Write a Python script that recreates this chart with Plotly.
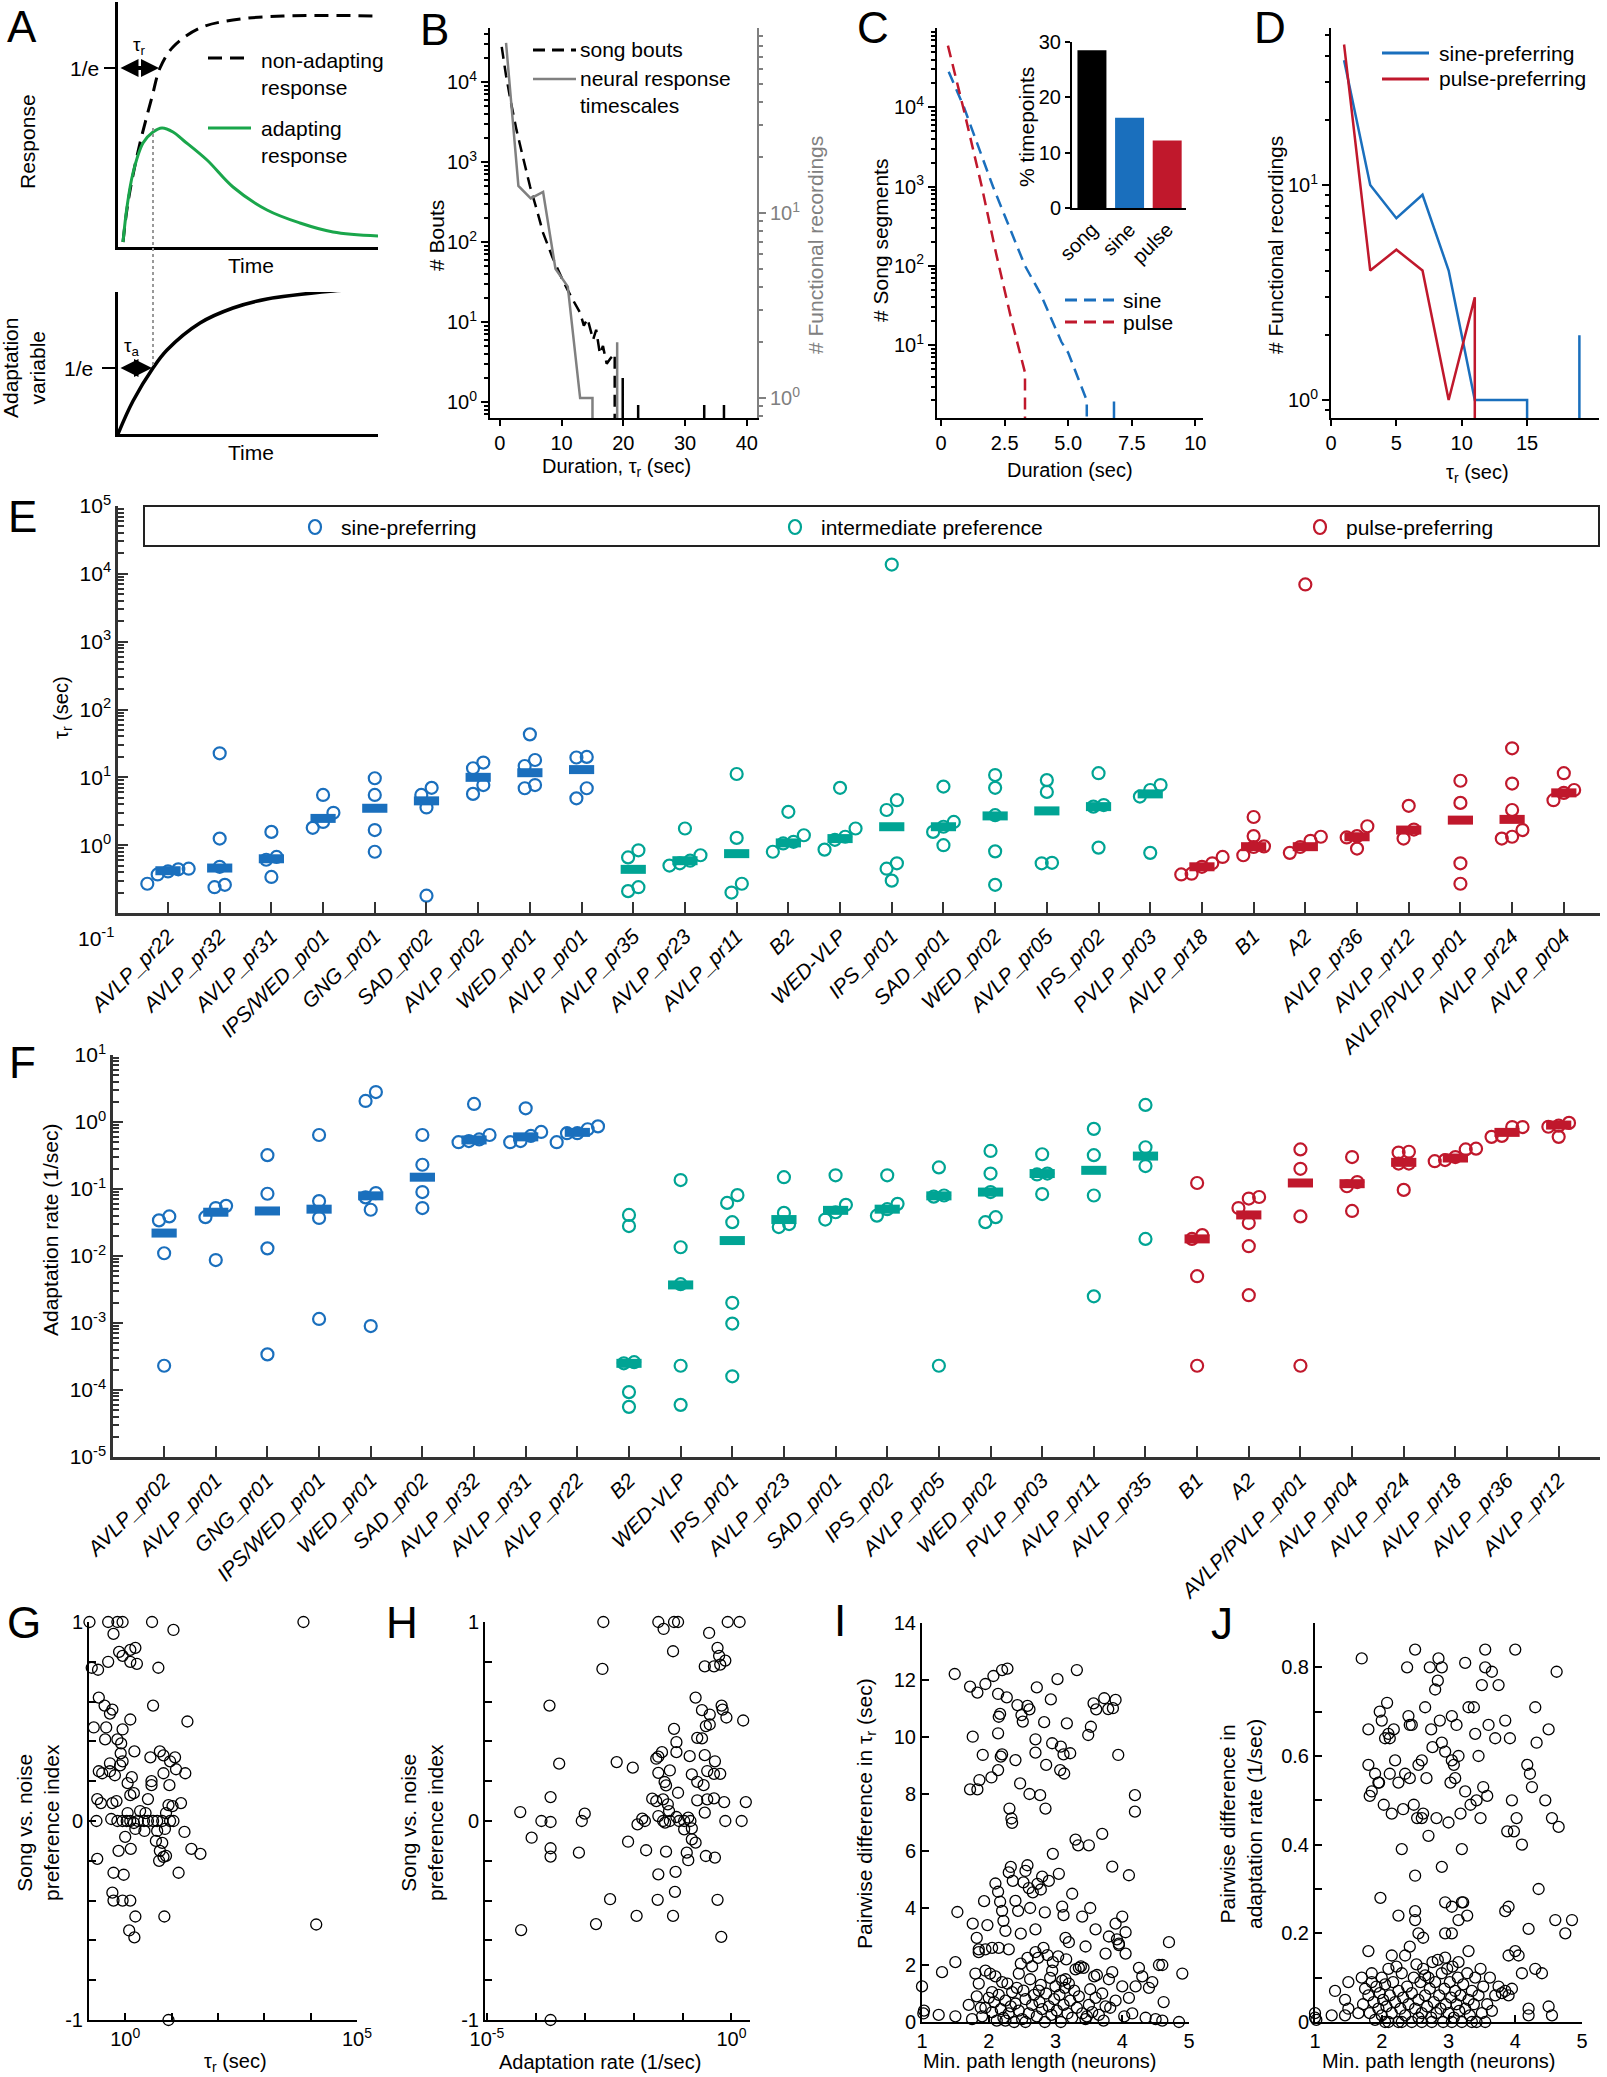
import numpy as np
import plotly.graph_objects as go

W, H = 1607, 2077
FONT = "Liberation Sans, Arial, sans-serif"
BLUE = "#1a6fbd"; TEAL = "#00a494"; RED = "#c0182c"; GREEN = "#1aa64b"; GRAY = "#808080"

# ---------------- Panel A (schematic curves, sampled) ----------------
a_nonadapt_t = [5, 9, 14, 22, 34, 42, 55, 82, 115, 165, 262]
a_nonadapt_r = [5, 38, 67, 104, 150, 179, 200, 219, 227, 231, 231]
a_adapt_t = [5, 9, 15, 25, 35, 44, 55, 65, 89, 115, 149, 182, 215, 260]
a_adapt_r = [5, 40, 74, 104, 115, 119, 115, 107, 87, 60, 37, 24, 15, 11]
a_var_t = [0, 15, 35, 49, 82, 115, 149, 215, 260]
a_var_v = [0, 33, 66, 84, 111, 126, 135, 143, 146]

# ---------------- Panel B ----------------
b_bouts_x = [0.3, 1.0, 1.8, 2.7, 3.8, 4.9, 6.0, 7.0, 8.5, 10.2, 11.5, 13.0, 13.6, 14.2, 15.1, 15.6, 16.2,
             16.7, 17.3, 17.9, 18.6, 19.2, 19.9, 20.4, 22.4, 22.9, 33.1, 33.6, 36.3, 36.8]
b_bouts_y = [27500, 12000, 5500, 2500, 1100, 490, 250, 130, 65, 33, 21, 13, 9, 11, 6, 8, 4,
             5, 3, 3.5, 4, 0, 2, 0, 1, 0, 1, 0, 1, 0]
b_neural_x = [1, 3, 5, 7, 9, 11, 13, 15, 17, 19, 21]
b_neural_y = [83, 14, 12, 13, 5, 4, 1, 1, 0, 2, 0]

# ---------------- Panel C ----------------
c_sine_x = [0.3, 0.9, 2.04, 3.3, 3.9, 4.73, 5.0, 5.73, 6.2, 6.8, 7.0]
c_sine_y = [28000, 10000, 1000, 100, 45, 11, 8, 2, 0, 2, 0]
c_pulse_x = [0.27, 0.9, 1.6, 2.16, 2.75, 3.3, 3.5]
c_pulse_y = [60000, 9100, 1000, 145, 22, 4.5, 0]
c_bar_labels = ["song", "sine", "pulse"]
c_bar_vals = [28.5, 16.3, 12.2]

# ---------------- Panel D ----------------
d_sine_x = [1, 3, 5, 7, 9, 11, 13, 15, 17, 19, 21]
d_sine_y = [38, 10, 7, 9, 4, 1, 1, 1, 0, 2, 0]
d_pulse_x = [1, 3, 5, 7, 9, 11, 13]
d_pulse_y = [45, 4, 5, 4, 1, 3, 0]

# ---------------- Panel E ----------------
e_cats = ["AVLP_pr22", "AVLP_pr32", "AVLP_pr31", "IPS/WED_pr01", "GNG_pr01", "SAD_pr02", "AVLP_pr02",
          "WED_pr01", "AVLP_pr01", "AVLP_pr35", "AVLP_pr23", "AVLP_pr11", "B2", "WED-VLP", "IPS_pr01",
          "SAD_pr01", "WED_pr02", "AVLP_pr05", "IPS_pr02", "PVLP_pr03", "AVLP_pr18", "B1", "A2",
          "AVLP_pr36", "AVLP_pr12", "AVLP/PVLP_pr01", "AVLP_pr24", "AVLP_pr04"]
e_pref = ["sine", "sine", "sine", "sine", "sine", "sine", "sine", "sine", "sine",
          "inter", "inter", "inter", "inter", "inter", "inter", "inter", "inter", "inter", "inter", "inter",
          "pulse", "pulse", "pulse", "pulse", "pulse", "pulse", "pulse", "pulse"]
e_vals = [
    [0.37, 0.45, 0.27, 0.44, 0.41], [22.6, 1.25, 0.48, 0.26, 0.24], [1.57, 0.67, 0.61, 0.34],
    [5.5, 3.0, 2.2, 1.8], [9.7, 5.5, 1.67, 0.8], [7.0, 5.5, 3.6, 0.18], [16.5, 13.6, 7.7, 5.7],
    [43, 18, 14.7, 7.7, 6.9], [20, 19.6, 6.9, 4.9], [0.84, 0.66, 0.24, 0.21],
    [1.76, 0.71, 0.59, 0.54, 0.5], [11.2, 1.28, 0.27, 0.2], [3.1, 1.4, 1.06, 1.12, 0.8],
    [7.0, 1.76, 1.33, 1.2, 0.86], [13700, 4.6, 3.3, 0.54, 0.45, 0.3], [7.3, 2.2, 1.87, 1.57, 1.0],
    [10.8, 7.0, 2.77, 0.81, 0.26], [9.1, 6.1, 0.54, 0.55], [11.5, 3.9, 3.7, 0.92], [7.7, 6.5, 5.2, 0.77],
    [0.67, 0.54, 0.48, 0.38, 0.37], [2.6, 1.36, 0.94, 0.96, 0.71], [6980, 1.33, 1.16, 0.94, 0.77],
    [1.9, 1.36, 1.3, 0.89], [3.8, 1.7, 1.25], [8.9, 4.2, 0.54, 0.27], [26.8, 8.1, 3.3, 1.67, 1.25, 1.33],
    [11.5, 6.5, 5.9, 4.6]]
e_center = [0.42, 0.46, 0.63, 2.48, 3.5, 4.5, 10.0, 11.7, 13.0, 0.44, 0.59, 0.75, 1.08, 1.25, 1.87,
            1.87, 2.7, 3.2, 3.7, 5.7, 0.48, 0.95, 0.95, 1.33, 1.67, 2.34, 2.4, 5.9]

# ---------------- Panel F ----------------
f_cats = ["AVLP_pr02", "AVLP_pr01", "GNG_pr01", "IPS/WED_pr01", "WED_pr01", "SAD_pr02", "AVLP_pr32",
          "AVLP_pr31", "AVLP_pr22", "B2", "WED-VLP", "IPS_pr01", "AVLP_pr23", "SAD_pr01", "IPS_pr02",
          "AVLP_pr05", "WED_pr02", "PVLP_pr03", "AVLP_pr11", "AVLP_pr35", "B1", "A2", "AVLP/PVLP_pr01",
          "AVLP_pr04", "AVLP_pr24", "AVLP_pr18", "AVLP_pr36", "AVLP_pr12"]
f_pref = ["sine", "sine", "sine", "sine", "sine", "sine", "sine", "sine", "sine",
          "inter", "inter", "inter", "inter", "inter", "inter", "inter", "inter", "inter", "inter", "inter",
          "pulse", "pulse", "pulse", "pulse", "pulse", "pulse", "pulse", "pulse"]
f_vals = [
    [0.039, 0.034, 0.011, 2.3e-4], [0.056, 0.052, 0.038, 0.0087], [0.32, 0.085, 0.013, 3.4e-4],
    [0.64, 0.066, 0.037, 0.00115], [2.8, 2.06, 0.087, 0.075, 0.049, 9e-4], [0.64, 0.23, 0.09, 0.052],
    [1.86, 0.64, 0.5, 0.52, 0.55], [1.6, 0.71, 0.62, 0.5, 0.52], [0.86, 0.78, 0.68, 0.5, 0.68],
    [0.041, 0.028, 2.6e-4, 2.5e-4, 9.3e-5, 5.6e-5], [0.136, 0.0135, 3.8e-3, 2.3e-4, 6e-5],
    [0.081, 0.062, 0.032, 0.002, 9.8e-4, 1.6e-4], [0.15, 0.044, 0.03, 0.027], [0.16, 0.058, 0.045, 0.035],
    [0.16, 0.06, 0.05, 0.04], [0.21, 0.08, 0.077, 2.3e-4], [0.37, 0.17, 0.09, 0.038, 0.032],
    [0.33, 0.17, 0.165, 0.084], [0.79, 0.32, 0.08, 0.0025], [1.8, 0.42, 0.22, 0.018],
    [0.123, 0.0205, 0.018, 0.005, 2.3e-4], [0.076, 0.072, 0.052, 0.031, 0.014, 0.0026],
    [0.39, 0.2, 0.039, 2.3e-4], [0.30, 0.127, 0.11, 0.047], [0.35, 0.36, 0.24, 0.24, 0.097],
    [0.39, 0.4, 0.3, 0.27, 0.26], [0.84, 0.84, 0.6, 0.62], [0.97, 0.88, 0.85, 0.6]]
f_center = [0.022, 0.045, 0.047, 0.05, 0.079, 0.15, 0.54, 0.6, 0.7, 2.5e-4, 3.7e-3, 0.017, 0.035, 0.048,
            0.05, 0.079, 0.09, 0.17, 0.19, 0.31, 0.018, 0.041, 0.123, 0.12, 0.25, 0.29, 0.7, 0.9]

# ---------------- Panel G (tau_r, preference index) ----------------
g_points = [(0.17, 1.0), (0.43, 1.0), (0.68, 1.0), (0.88, 1.0), (3.8, 1.0), (11, 0.96), (7000, 1.0),
            (0.56, 0.94), (0.74, 0.85), (1.29, 0.86), (1.66, 0.87), (0.88, 0.83), (0.43, 0.80), (1.29, 0.80),
            (1.79, 0.79), (5.2, 0.77), (0.19, 0.77), (0.26, 0.76), (0.27, 0.62), (0.36, 0.58), (0.47, 0.54),
            (0.53, 0.56), (4.0, 0.58), (1.29, 0.51), (22, 0.5), (0.21, 0.47), (0.39, 0.47), (0.88, 0.46),
            (0.37, 0.41), (0.68, 0.41), (0.82, 0.39), (0.8, 0.34), (1.58, 0.35), (3.5, 0.32), (5.6, 0.35),
            (6.7, 0.33), (11.9, 0.32), (9.3, 0.30), (0.88, 0.30), (0.47, 0.29), (0.78, 0.28), (0.27, 0.25),
            (0.32, 0.24), (0.47, 0.25), (0.6, 0.23), (1.39, 0.22), (6.7, 0.24), (12.5, 0.26), (19.8, 0.24),
            (3.7, 0.20), (3.7, 0.18), (9.0, 0.18), (1.13, 0.19), (0.65, 0.10), (0.25, 0.11), (0.3, 0.09),
            (0.53, 0.09), (1.29, 0.13), (1.54, 0.14), (3.1, 0.11), (8.6, 0.08), (16, 0.09), (10.5, 0.075),
            (1.13, 0.04), (2.1, 0.05), (2.75, 0.04), (7.6, 0.04), (0.24, 0.0), (0.5, 0.01), (0.68, 0.0),
            (0.88, 0.0), (1.08, 0.0), (1.29, 0.0), (1.54, -0.01), (1.88, 0.0), (2.55, 0.0), (3.1, 0.0),
            (4.0, 0.0), (4.9, 0.0), (6.3, 0.0), (9.3, 0.0), (11, 0.0), (1.66, -0.04), (2.6, -0.05),
            (4.9, -0.05), (7.2, -0.04), (19, -0.055), (1.0, -0.08), (4.6, -0.10), (6.3, -0.11),
            (0.72, -0.15), (1.32, -0.14), (5.6, -0.15), (6.7, -0.18), (7.6, -0.175), (5.4, -0.2),
            (26.8, -0.14), (42, -0.165), (0.25, -0.19), (0.56, -0.26), (0.93, -0.27), (14.2, -0.26),
            (0.53, -0.36), (0.56, -0.40), (0.88, -0.40), (1.29, -0.40), (1.66, -0.48), (7.0, -0.48),
            (1.22, -0.55), (1.58, -0.585), (13200, -0.52), (8.6, -1.0)]

# ---------------- Panel H (adaptation rate, preference index) ----------------
h_points = [(2.4e-3, 1.0), (0.032, 1.0), (0.067, 1.0), (0.081, 1.0), (0.041, 0.965), (0.35, 0.945), (0.84, 1.0),
            (1.47, 1.0), (0.064, 0.853), (2.3e-3, 0.764), (0.285, 0.777), (0.44, 0.777), (0.52, 0.87),
            (0.56, 0.83), (0.75, 0.806), (0.59, 0.786), (1.9e-4, 0.58), (0.185, 0.62), (0.25, 0.557),
            (0.36, 0.535), (0.63, 0.58), (0.66, 0.56), (0.79, 0.52), (1.74, 0.505), (0.067, 0.463),
            (0.3, 0.477), (0.36, 0.485), (0.2, 0.418), (0.25, 0.415), (0.075, 0.396), (0.038, 0.346),
            (0.032, 0.323), (0.029, 0.313), (0.075, 0.346), (0.14, 0.326), (0.285, 0.331), (0.46, 0.3),
            (3.0e-4, 0.288), (4.5e-3, 0.296), (9.6e-3, 0.268), (0.032, 0.242), (0.055, 0.254), (0.155, 0.234),
            (0.32, 0.251), (0.44, 0.237), (0.59, 0.237), (0.2, 0.197), (0.27, 0.18), (0.043, 0.196),
            (0.046, 0.179), (0.081, 0.142), (2.0e-4, 0.12), (0.024, 0.112), (0.029, 0.1), (0.04, 0.109),
            (0.05, 0.084), (0.2, 0.104), (0.32, 0.109), (0.44, 0.114), (0.71, 0.095), (1.97, 0.095),
            (0.053, 0.05), (1.0e-3, 0.037), (4.8e-5, 0.045), (0.015, 0.012), (0.017, 0.0), (0.012, -0.017),
            (0.032, 0.025), (0.04, 0.0), (0.044, -0.008), (0.055, 0.0), (0.075, 0.02), (0.085, 0.0),
            (0.108, 0.0), (0.131, 0.017), (0.145, 0.0), (0.155, -0.037), (0.108, -0.042), (0.285, 0.042),
            (0.75, 0.0), (1.62, 0.0), (1.3e-4, 0.0), (2.0e-4, -0.005), (8.7e-4, 0.0), (8.2e-5, -0.084),
            (2.0e-4, -0.137), (2.0e-4, -0.179), (7.6e-4, -0.159), (7.7e-3, -0.104), (0.018, -0.147),
            (0.046, -0.154), (0.155, -0.092), (0.185, -0.109), (0.122, -0.159), (0.131, -0.197),
            (0.3, -0.176), (0.46, -0.184), (0.032, -0.268), (0.072, -0.256), (2.5, -0.251), (3.3e-3, -0.393),
            (0.031, -0.396), (0.07, -0.356), (0.52, -0.396), (0.0115, -0.477), (0.064, -0.477),
            (1.7e-3, -0.518), (5.0e-5, -0.548), (0.62, -0.582), (2.0e-4, -1.0)]

# ---------------- Panel I (path length, pairwise diff tau_r) ----------------
i_points = [
    (1.49, 12.21), (1.72, 11.77), (1.83, 11.56), (1.95, 11.86), (2.07, 12.14), (2.14, 11.51), (2.20, 12.35),
    (2.28, 12.40), (1.72, 8.16), (1.83, 8.16), (1.86, 8.49), (1.76, 10.01), (1.91, 9.37), (2.04, 8.58),
    (2.14, 8.84), (2.14, 10.13), (2.15, 10.71), (2.17, 10.81), (2.18, 9.31), (2.20, 9.39), (2.27, 11.39),
    (2.31, 7.49), (2.34, 7.14), (2.35, 6.99), (2.40, 9.19), (2.43, 11.12), (2.47, 8.37), (2.49, 10.77),
    (2.51, 10.54), (2.58, 11.09), (2.61, 10.97), (2.61, 8.00), (2.70, 9.92), (2.72, 11.74), (2.70, 9.45),
    (2.77, 7.96), (2.83, 10.52), (2.86, 9.02), (2.85, 7.49), (2.93, 11.32), (2.95, 9.78), (3.03, 12.03),
    (3.07, 8.84), (3.08, 9.66), (3.12, 9.39), (3.13, 8.72), (3.17, 10.48), (3.22, 9.43), (3.32, 12.35),
    (3.49, 10.07), (3.53, 10.36), (3.57, 11.18), (3.61, 10.97), (3.73, 11.36), (3.79, 10.98), (3.86, 11.01),
    (3.90, 11.30), (3.94, 9.37), (4.19, 7.96), (4.19, 7.38),
    (1.53, 3.86), (1.76, 3.45), (1.82, 2.95), (1.85, 2.55), (1.93, 4.24), (1.98, 3.4), (2.05, 2.6),
    (2.10, 4.86), (2.14, 4.57), (2.17, 4.22), (2.20, 3.9), (2.22, 3.55), (2.25, 3.2), (2.30, 5.25),
    (2.33, 5.44), (2.36, 4.95), (2.40, 4.25), (2.44, 3.9), (2.48, 3.1), (2.52, 4.9), (2.55, 5.3),
    (2.58, 5.5), (2.60, 4.7), (2.62, 4.0), (2.66, 4.55), (2.70, 3.25), (2.73, 4.85), (2.78, 4.65),
    (2.80, 5.1), (2.84, 3.85), (2.90, 4.95), (2.96, 5.9), (3.05, 5.2), (3.10, 4.05), (3.12, 3.75),
    (3.15, 2.95), (3.20, 2.8), (3.25, 4.5), (3.30, 6.4), (3.34, 6.2), (3.40, 3.7), (3.45, 2.65),
    (3.50, 6.2), (3.52, 4.0), (3.60, 3.25), (3.70, 6.6), (3.80, 3.0), (3.85, 5.45), (3.90, 3.45),
    (3.95, 2.75), (4.00, 3.7), (4.05, 3.15), (4.10, 5.15), (3.75, 2.4), (3.92, 2.9),
    (1.0, 1.25), (1.03, 0.4), (1.02, 0.3), (1.25, 0.25), (1.3, 1.75), (1.5, 0.2), (1.5, 2.1), (1.7, 0.6),
    (1.75, 0.1), (1.8, 1.7), (1.82, 0.9), (1.85, 1.35), (1.88, 0.5), (1.9, 0.2), (1.95, 1.8), (2.0, 0.85),
    (2.02, 1.7), (2.05, 0.35), (2.08, 0.7), (2.1, 1.6), (2.12, 0.05), (2.15, 0.95), (2.18, 0.45),
    (2.2, 1.4), (2.22, 0.15), (2.25, 0.75), (2.28, 1.35), (2.3, 0.3), (2.33, 0.55), (2.35, 1.05),
    (2.38, 0.0), (2.4, 0.65), (2.42, 1.2), (2.45, 0.4), (2.48, 2.05), (2.5, 0.1), (2.52, 1.1), (2.55, 0.8),
    (2.58, 2.25), (2.6, 0.3), (2.62, 1.5), (2.65, 0.6), (2.68, 0.95), (2.7, 2.45), (2.72, 0.2),
    (2.74, 2.25), (2.76, 0.7), (2.78, 1.3), (2.8, 0.45), (2.82, 2.6), (2.84, 0.0), (2.86, 1.0),
    (2.88, 2.35), (2.9, 0.55), (2.92, 1.55), (2.94, 0.25), (2.96, 2.1), (2.98, 0.8), (3.0, 1.25),
    (3.02, 0.4), (3.04, 2.3), (3.06, 0.95), (3.08, 0.0), (3.1, 1.45), (3.12, 0.6), (3.14, 1.2),
    (3.16, 2.2), (3.18, 0.3), (3.2, 1.35), (3.22, 0.75), (3.25, 0.15), (3.28, 1.1), (3.3, 1.85),
    (3.32, 0.5), (3.35, 0.9), (3.38, 1.95), (3.4, 0.3), (3.42, 1.9), (3.45, 0.1), (3.47, 0.2),
    (3.5, 0.6), (3.52, 1.15), (3.55, 0.35), (3.58, 1.6), (3.6, 0.85), (3.62, 1.65), (3.65, 0.25),
    (3.7, 1.0), (3.72, 0.05), (3.75, 0.55), (3.8, 1.5), (3.82, 0.5), (3.85, 1.75), (3.9, 0.75),
    (3.95, 2.7), (4.0, 1.25), (4.03, 0.2), (4.05, 2.4), (4.1, 0.85), (4.15, 0.3), (4.2, 1.25),
    (4.25, 1.9), (4.3, 1.6), (4.35, 0.15), (4.4, 1.2), (4.45, 1.4), (4.5, 0.1), (4.55, 2.0), (4.6, 0.05),
    (4.62, 0.7), (4.7, 2.8), (4.9, 1.7), (4.85, 0.0), (4.6, 2.0), (1.95, 0.5), (2.05, 1.05), (2.25, 0.05),
    (2.55, 0.0), (2.75, 1.1), (2.95, 1.8), (3.15, 1.5), (3.35, 1.9), (2.65, 1.95), (2.45, 1.7),
    (2.3, 2.55), (2.15, 2.6), (1.95, 2.55), (1.85, 2.45)]

# ---------------- Panel J (path length, pairwise diff adaptation rate) ----------------
j_points = [
    (1.7, 0.82), (1.8, 0.58), (1.8, 0.66), (1.82, 0.51), (1.85, 0.52), (1.9, 0.56), (1.95, 0.54), (1.97, 0.70),
    (2.0, 0.68), (2.03, 0.49), (2.05, 0.64), (2.08, 0.72), (2.1, 0.65), (2.12, 0.56), (2.15, 0.47),
    (2.18, 0.66), (2.2, 0.59), (2.25, 0.54), (2.3, 0.39), (2.32, 0.48), (2.35, 0.56), (2.38, 0.80),
    (2.4, 0.69), (2.42, 0.55), (2.45, 0.67), (2.48, 0.49), (2.5, 0.84), (2.53, 0.46), (2.55, 0.58),
    (2.6, 0.59), (2.62, 0.47), (2.65, 0.71), (2.67, 0.55), (2.7, 0.42), (2.72, 0.80), (2.74, 0.66),
    (2.76, 0.62), (2.8, 0.75), (2.82, 0.46), (2.84, 0.77), (2.85, 0.82), (2.87, 0.68), (2.9, 0.63),
    (2.95, 0.61), (3.0, 0.45), (3.03, 0.54), (3.05, 0.69), (3.08, 0.58), (3.1, 0.55), (3.12, 0.67),
    (3.15, 0.60), (3.18, 0.47), (3.2, 0.39), (3.25, 0.52), (3.3, 0.71), (3.33, 0.49), (3.38, 0.71),
    (3.4, 0.65), (3.42, 0.50), (3.45, 0.60), (3.48, 0.46), (3.5, 0.76), (3.52, 0.53), (3.55, 0.80),
    (3.58, 0.51), (3.6, 0.67), (3.65, 0.79), (3.7, 0.64), (3.75, 0.76), (3.85, 0.68), (3.88, 0.43),
    (3.92, 0.64), (3.95, 0.50), (3.98, 0.43), (4.0, 0.84), (4.02, 0.46), (4.1, 0.40), (4.18, 0.58),
    (4.22, 0.56), (4.25, 0.53), (4.3, 0.71), (4.32, 0.63), (4.45, 0.50), (4.5, 0.66), (4.55, 0.46),
    (4.62, 0.79), (4.65, 0.44), (3.55, 0.84), (2.42, 0.67), (2.12, 0.64), (2.6, 0.46), (2.9, 0.80),
    (3.25, 0.81), (1.96, 0.54), (3.05, 0.59),
    (1.98, 0.28), (2.25, 0.24), (2.5, 0.33), (2.5, 0.25), (2.5, 0.23), (2.55, 0.20), (2.62, 0.19),
    (2.9, 0.35), (2.95, 0.20), (3.05, 0.26), (3.15, 0.23), (3.2, 0.27), (3.22, 0.27), (3.28, 0.24),
    (3.85, 0.25), (3.9, 0.26), (4.2, 0.21), (4.35, 0.30), (4.6, 0.23), (4.75, 0.20), (4.85, 0.23),
    (3.05, 0.20), (2.95, 0.27), (3.3, 0.16),
    (1.0, 0.01), (1.0, 0.02), (1.02, 0.005), (1.25, 0.015), (1.3, 0.07), (1.45, 0.015), (1.45, 0.05),
    (1.5, 0.09), (1.5, 0.03), (1.65, 0.02), (1.7, 0.10), (1.72, 0.04), (1.75, 0.075), (1.8, 0.16),
    (1.8, 0.06), (1.82, 0.02), (1.85, 0.09), (1.88, 0.045), (1.9, 0.005), (1.92, 0.08), (1.95, 0.03),
    (1.97, 0.065), (2.0, 0.10), (2.0, 0.015), (2.02, 0.05), (2.05, 0.085), (2.07, 0.035), (2.1, 0.12),
    (2.1, 0.0), (2.12, 0.06), (2.15, 0.02), (2.17, 0.09), (2.2, 0.045), (2.22, 0.125), (2.25, 0.0),
    (2.25, 0.07), (2.28, 0.03), (2.3, 0.11), (2.32, 0.055), (2.35, 0.15), (2.35, 0.015), (2.38, 0.08),
    (2.4, 0.04), (2.42, 0.17), (2.45, 0.0), (2.45, 0.065), (2.48, 0.1), (2.5, 0.03), (2.52, 0.13),
    (2.55, 0.05), (2.58, 0.09), (2.6, 0.0), (2.6, 0.02), (2.62, 0.12), (2.65, 0.06), (2.68, 0.035),
    (2.7, 0.1), (2.72, 0.075), (2.74, 0.01), (2.76, 0.135), (2.78, 0.045), (2.8, 0.09), (2.82, 0.02),
    (2.84, 0.14), (2.86, 0.06), (2.88, 0.03), (2.9, 0.11), (2.92, 0.0), (2.94, 0.075), (2.96, 0.04),
    (2.98, 0.12), (3.0, 0.02), (3.02, 0.09), (3.04, 0.055), (3.06, 0.125), (3.08, 0.01), (3.1, 0.07),
    (3.12, 0.04), (3.14, 0.1), (3.16, 0.025), (3.18, 0.06), (3.2, 0.0), (3.22, 0.085), (3.25, 0.03),
    (3.28, 0.11), (3.3, 0.05), (3.32, 0.015), (3.35, 0.07), (3.38, 0.04), (3.4, 0.1), (3.42, 0.0),
    (3.45, 0.06), (3.48, 0.12), (3.5, 0.02), (3.52, 0.08), (3.55, 0.0), (3.58, 0.04), (3.62, 0.1),
    (3.65, 0.025), (3.7, 0.06), (3.75, 0.08), (3.8, 0.065), (3.85, 0.07), (3.9, 0.06), (3.9, 0.15),
    (3.95, 0.075), (4.0, 0.16), (4.05, 0.15), (4.1, 0.11), (4.2, 0.015), (4.2, 0.03), (4.3, 0.12),
    (4.4, 0.11), (4.5, 0.035), (4.55, 0.015), (2.3, 0.0), (2.55, 0.01), (2.05, 0.0), (2.75, 0.0),
    (3.05, 0.0), (3.35, 0.0), (2.15, 0.15), (1.85, 0.11), (2.65, 0.105), (2.95, 0.145), (3.15, 0.135)]

# ====================================================================
def fx(px):
    return px / W

def fy(py):
    return 1 - py / H

def xdom(a, b):
    return [fx(a), fx(b)]

def ydom(top, bottom):
    return [fy(bottom), fy(top)]

def sup(k):
    return "10<sup>%d</sup>" % k

def log_path(xs, ys, floor=1e-4):
    """Histogram-style path on a log axis: zero counts drop to the axis."""
    X, Y = [], []
    prev_zero = False
    for x, y in zip(xs, ys):
        if y == 0:
            if X and X[-1] is not None:
                X += [X[-1], None]
                Y += [floor, None]
            prev_zero = True
        else:
            if prev_zero and X:
                X.append(x); Y.append(floor)
            X.append(x); Y.append(y)
            prev_zero = False
    return X, Y

def minor_log(lo, hi):
    vals = []
    for k in range(lo, hi + 1):
        for m in range(2, 10):
            vals.append(m * 10.0 ** k)
    return vals

def jitter(vals, thr=0.15, step=0.2):
    lv = np.log10(np.array(vals, dtype=float))
    order = list(np.argsort(lv))
    offs = np.zeros(len(vals))
    groups, cur = [], [order[0]]
    for a, b in zip(order[:-1], order[1:]):
        if lv[b] - lv[a] < thr:
            cur.append(b)
        else:
            groups.append(cur); cur = [b]
    groups.append(cur)
    for g in groups:
        n = len(g)
        for k, idx in enumerate(g):
            offs[idx] = (k - (n - 1) / 2) * step
    return offs

fig = go.Figure()
ann = []
shapes = []

def txt(s, x, y, size=20, color="black", angle=0, xanchor="center", yanchor="middle", align="center"):
    ann.append(dict(text=s, x=fx(x), y=fy(y), xref="paper", yref="paper", showarrow=False,
                    font=dict(family=FONT, size=size, color=color), textangle=angle,
                    xanchor=xanchor, yanchor=yanchor, align=align))

def pline(x0, y0, x1, y1, color="black", width=2, dash="solid"):
    shapes.append(dict(type="line", xref="paper", yref="paper", x0=fx(x0), y0=fy(y0), x1=fx(x1), y1=fy(y1),
                       line=dict(color=color, width=width, dash=dash)))

def arrow2(x0, x1, y):
    ann.append(dict(text="", x=fx(x1), y=fy(y), ax=x0 - x1, ay=0, xref="paper", yref="paper",
                    axref="pixel", ayref="pixel", showarrow=True, arrowhead=2, arrowside="end+start",
                    arrowwidth=4, arrowsize=0.9, arrowcolor="black", standoff=0, startstandoff=0))

TF = dict(family=FONT, size=20, color="black")
base = dict(showgrid=False, zeroline=False, showline=True, linecolor="black", linewidth=2,
            ticks="outside", tickcolor="black", tickwidth=1.5, ticklen=7, tickfont=TF, automargin=False)

def axis(**kw):
    d = dict(base); d.update(kw); return d

layout = {}

# ---------------- Panel A ----------------
layout["xaxis"] = axis(domain=xdom(118, 378), range=[0, 260], anchor="y", ticks="", showticklabels=False, linewidth=2.5)
layout["yaxis"] = axis(domain=ydom(2, 247), range=[0, 245], anchor="x", ticks="", showticklabels=False, linewidth=2.5)
layout["xaxis2"] = axis(domain=xdom(118, 378), range=[0, 260], anchor="y2", ticks="", showticklabels=False, linewidth=2.5)
layout["yaxis2"] = axis(domain=ydom(292, 434), range=[0, 142], anchor="x2", ticks="", showticklabels=False, linewidth=2.5)
fig.add_trace(go.Scatter(x=a_nonadapt_t, y=a_nonadapt_r, mode="lines", line=dict(color="black", width=3, dash="14px,8px", shape="spline"), xaxis="x", yaxis="y"))
fig.add_trace(go.Scatter(x=a_adapt_t, y=a_adapt_r, mode="lines", line=dict(color=GREEN, width=3, shape="spline"), xaxis="x", yaxis="y"))
fig.add_trace(go.Scatter(x=a_var_t, y=a_var_v, mode="lines", line=dict(color="black", width=3.5, shape="spline"), xaxis="x2", yaxis="y2"))
pline(153, 128, 153, 368, color="#999999", width=2, dash="dot")
pline(104, 68, 118, 68, width=2)
pline(102, 368, 118, 368, width=2)
txt("1/e", 84, 68, size=21)
txt("1/e", 78, 368, size=21)
arrow2(119, 159, 68)
arrow2(119, 152, 368)
txt("τ<sub>r</sub>", 139, 46, size=19)
txt("τ<sub>a</sub>", 132, 347, size=19)
txt("Response", 27, 142, size=21, angle=-90)
txt("Adaptation<br>variable", 24, 368, size=21, angle=-90)
txt("Time", 251, 265, size=21)
txt("Time", 251, 453, size=21)
pline(208, 58, 251, 58, width=3, dash="14px,8px")
txt("non-adapting<br>response", 259, 74, size=21, xanchor="left", align="left")
pline(208, 128, 251, 128, color=GREEN, width=3)
txt("adapting<br>response", 259, 142, size=21, xanchor="left", align="left")

# ---------------- Panel B ----------------
layout["xaxis3"] = axis(domain=xdom(490, 757), range=[-1.6, 41.65], anchor="y3", tickvals=[0, 10, 20, 30, 40], ticklen=6)
layout["yaxis3"] = axis(domain=ydom(28, 418), type="log", range=[-0.2, 4.675], anchor="x3",
                        tickvals=[1, 10, 100, 1e3, 1e4], ticktext=[sup(k) for k in range(5)],
                        minor=dict(tickvals=minor_log(-1, 4), ticks="outside", ticklen=4, tickcolor="black"))
layout["yaxis4"] = axis(type="log", range=[-0.108, 2.0], anchor="x3", overlaying="y3", side="right",
                        linecolor=GRAY, tickcolor=GRAY, tickfont=dict(family=FONT, size=20, color=GRAY),
                        tickvals=[1, 10], ticktext=[sup(0), sup(1)],
                        minor=dict(tickvals=minor_log(-1, 1), ticks="outside", ticklen=4, tickcolor=GRAY))
bx, by = log_path(b_bouts_x, b_bouts_y)
fig.add_trace(go.Scatter(x=bx, y=by, mode="lines", line=dict(color="black", width=2.5, dash="12px,7px"), xaxis="x3", yaxis="y3"))
nx, ny = log_path(b_neural_x, b_neural_y)
fig.add_trace(go.Scatter(x=nx, y=ny, mode="lines", line=dict(color=GRAY, width=2.5), xaxis="x3", yaxis="y4"))
txt("# Bouts", 436, 236, size=21, angle=-90)
txt("# Functional recordings", 815, 245, size=21, angle=-90, color=GRAY)
txt("Duration, τ<sub>r</sub> (sec)", 616, 468, size=20)
pline(533, 50, 576, 50, width=3, dash="12px,7px")
txt("song bouts", 578, 50, size=21, xanchor="left")
pline(533, 79, 576, 79, color=GRAY, width=2.5)
txt("neural response<br>timescales", 578, 92, size=21, xanchor="left", align="left")

# ---------------- Panel C ----------------
layout["xaxis5"] = axis(domain=xdom(937, 1203), range=[-0.16, 10.3], anchor="y5", ticklen=6,
                        tickvals=[0, 2.5, 5, 7.5, 10], ticktext=["0", "2.5", "5.0", "7.5", "10"])
layout["yaxis5"] = axis(domain=ydom(28, 418), type="log", range=[0.08, 5.0], anchor="x5",
                        tickvals=[10, 100, 1e3, 1e4], ticktext=[sup(k) for k in range(1, 5)],
                        minor=dict(tickvals=minor_log(0, 4), ticks="outside", ticklen=4, tickcolor="black"))
sx, sy = log_path(c_sine_x, c_sine_y)
fig.add_trace(go.Scatter(x=sx, y=sy, mode="lines", line=dict(color=BLUE, width=2.5, dash="12px,7px"), xaxis="x5", yaxis="y5"))
px_, py_ = log_path(c_pulse_x, c_pulse_y)
fig.add_trace(go.Scatter(x=px_, y=py_, mode="lines", line=dict(color=RED, width=2.5, dash="12px,7px"), xaxis="x5", yaxis="y5"))
layout["xaxis6"] = axis(domain=xdom(1072, 1186), range=[-0.53, 2.5], anchor="y6", ticks="",
                        tickvals=[0, 1, 2], ticktext=c_bar_labels, tickangle=-45)
layout["yaxis6"] = axis(domain=ydom(42, 208), range=[0, 30], anchor="x6", tickvals=[0, 10, 20, 30], ticklen=5)
fig.add_trace(go.Bar(x=[0, 1, 2], y=c_bar_vals, marker=dict(color=["black", BLUE, RED], line=dict(width=0)),
                     width=0.77, xaxis="x6", yaxis="y6"))
txt("% timepoints", 1026, 127, size=21, angle=-90)
txt("# Song segments", 880, 241, size=21, angle=-90)
txt("Duration (sec)", 1070, 470, size=20)
pline(1065, 300, 1114, 300, color=BLUE, width=3, dash="12px,7px")
txt("sine", 1121, 300, size=21, xanchor="left")
pline(1065, 322, 1114, 322, color=RED, width=3, dash="12px,7px")
txt("pulse", 1121, 322, size=21, xanchor="left")

# ---------------- Panel D ----------------
layout["xaxis7"] = axis(domain=xdom(1331, 1599), range=[0, 20.5], anchor="y7", tickvals=[0, 5, 10, 15], ticklen=6)
layout["yaxis7"] = axis(domain=ydom(28, 418), type="log", range=[-0.084, 1.73], anchor="x7",
                        tickvals=[1, 10], ticktext=[sup(0), sup(1)],
                        minor=dict(tickvals=minor_log(-1, 1), ticks="outside", ticklen=4, tickcolor="black"))
dx, dy = log_path(d_sine_x, d_sine_y)
fig.add_trace(go.Scatter(x=dx, y=dy, mode="lines", line=dict(color=BLUE, width=2.5), xaxis="x7", yaxis="y7"))
dx2, dy2 = log_path(d_pulse_x, d_pulse_y)
fig.add_trace(go.Scatter(x=dx2, y=dy2, mode="lines", line=dict(color=RED, width=2.5), xaxis="x7", yaxis="y7"))
txt("# Functional recordings", 1275, 245, size=21, angle=-90)
txt("τ<sub>r</sub> (sec)", 1477, 473, size=20)
pline(1382, 53, 1429, 53, color=BLUE, width=3)
txt("sine-preferring", 1437, 53, size=21, xanchor="left")
pline(1382, 79, 1429, 79, color=RED, width=3)
txt("pulse-preferring", 1437, 79, size=21, xanchor="left")

# ---------------- Panels E and F ----------------
COL = {"sine": BLUE, "inter": TEAL, "pulse": RED}

def strip_panel(cats, prefs, vals, centers, xa, ya):
    for pref in ["sine", "inter", "pulse"]:
        xs, ys = [], []
        for i, (p, v) in enumerate(zip(prefs, vals)):
            if p != pref:
                continue
            offs = jitter(v)
            xs += list(i + offs); ys += list(v)
        fig.add_trace(go.Scatter(x=xs, y=ys, mode="markers", cliponaxis=False,
                                 marker=dict(symbol="circle-open", size=12, color=COL[pref], line=dict(width=2.2)),
                                 xaxis=xa, yaxis=ya))
    for pref in ["sine", "inter", "pulse"]:
        xs = [i for i, p in enumerate(prefs) if p == pref]
        ys = [centers[i] for i in xs]
        fig.add_trace(go.Scatter(x=xs, y=ys, mode="markers", cliponaxis=False,
                                 marker=dict(symbol="line-ew", size=18, color=COL[pref],
                                             line=dict(width=9, color=COL[pref])),
                                 xaxis=xa, yaxis=ya))

EF_TF = dict(family=FONT, size=21, color="black")
layout["xaxis8"] = axis(domain=xdom(118, 1600), range=[-0.967, 27.7], anchor="y8", ticks="inside", ticklen=11,
                        linecolor="#333333", linewidth=2.5, tickcolor="#333333",
                        tickvals=list(range(len(e_cats))), ticktext=["<i>%s</i>" % c for c in e_cats],
                        tickangle=-45, tickfont=EF_TF)
layout["yaxis8"] = axis(domain=ydom(506, 913), type="log", range=[-1, 5], anchor="x8", ticks="inside", ticklen=10,
                        linecolor="#333333", linewidth=2.5, tickcolor="#333333",
                        tickvals=[1, 10, 100, 1e3, 1e4, 1e5], ticktext=[sup(k) for k in range(0, 6)],
                        tickfont=EF_TF,
                        minor=dict(tickvals=minor_log(-1, 4), ticks="inside", ticklen=6, tickcolor="#333333"))
strip_panel(e_cats, e_pref, e_vals, e_center, "x8", "y8")
txt("10<sup>-1</sup>", 96, 937, size=21)
txt("τ<sub>r</sub> (sec)", 62, 708, size=20, angle=-90)
shapes.append(dict(type="rect", xref="paper", yref="paper", x0=fx(144), y0=fy(546), x1=fx(1599), y1=fy(506),
                   line=dict(color="#222222", width=2), fillcolor="white", layer="below"))
for lx, col, label in [(315, BLUE, "sine-preferring"), (795, TEAL, "intermediate preference"), (1320, RED, "pulse-preferring")]:
    shapes.append(dict(type="circle", xref="paper", yref="paper", xsizemode="pixel", ysizemode="pixel",
                       xanchor=fx(lx), yanchor=fy(527), x0=-6, x1=6, y0=-7, y1=7, line=dict(color=col, width=2.2)))
    txt(label, lx + 24, 527, size=21, xanchor="left")

layout["xaxis9"] = axis(domain=xdom(113, 1600), range=[-0.99, 27.8], anchor="y9", ticks="inside", ticklen=11,
                        linecolor="#333333", linewidth=2.5, tickcolor="#333333",
                        tickvals=list(range(len(f_cats))), ticktext=["<i>%s</i>" % c for c in f_cats],
                        tickangle=-45, tickfont=EF_TF)
layout["yaxis9"] = axis(domain=ydom(1055, 1457), type="log", range=[-5, 1], anchor="x9", ticks="inside", ticklen=10,
                        linecolor="#333333", linewidth=2.5, tickcolor="#333333",
                        tickvals=[1e-5, 1e-4, 1e-3, 1e-2, 1e-1, 1, 10], ticktext=[sup(k) for k in range(-5, 2)],
                        tickfont=EF_TF,
                        minor=dict(tickvals=minor_log(-5, 0), ticks="inside", ticklen=6, tickcolor="#333333"))
strip_panel(f_cats, f_pref, f_vals, f_center, "x9", "y9")
txt("Adaptation rate (1/sec)", 50, 1230, size=21, angle=-90)

# ---------------- Panels G-J ----------------
MK = dict(symbol="circle-open", size=11, color="black", line=dict(width=1.3))
idx_ticks = [-1, -0.8, -0.6, -0.4, -0.2, 0, 0.2, 0.4, 0.6, 0.8, 1]
idx_text = ["-1", "", "", "", "", "0", "", "", "", "", "1"]

layout["xaxis10"] = axis(domain=xdom(89, 357), type="log", range=[-0.78, 5], anchor="y10", ticks="inside",
                         tickvals=[1, 10, 100, 1e3, 1e4, 1e5], ticktext=[sup(0), "", "", "", "", sup(5)])
layout["yaxis10"] = axis(domain=ydom(1622, 2020), range=[-1, 1], anchor="x10", ticks="inside",
                         tickvals=idx_ticks, ticktext=idx_text)
fig.add_trace(go.Scatter(x=[p[0] for p in g_points], y=[p[1] for p in g_points], mode="markers", cliponaxis=False,
                         marker=MK, xaxis="x10", yaxis="y10"))
txt("Song vs. noise<br>preference index", 38, 1823, size=21, angle=-90)
txt("τ<sub>r</sub> (sec)", 235, 2062, size=20)

layout["xaxis11"] = axis(domain=xdom(485, 750), type="log", range=[-5.04, 0.38], anchor="y11", ticks="inside",
                         tickvals=[1e-5, 1e-4, 1e-3, 1e-2, 1e-1, 1], ticktext=[sup(-5), "", "", "", "", sup(0)])
layout["yaxis11"] = axis(domain=ydom(1622, 2020), range=[-1, 1], anchor="x11", ticks="inside",
                         tickvals=idx_ticks, ticktext=idx_text)
fig.add_trace(go.Scatter(x=[p[0] for p in h_points], y=[p[1] for p in h_points], mode="markers", cliponaxis=False,
                         marker=MK, xaxis="x11", yaxis="y11"))
txt("Song vs. noise<br>preference index", 422, 1823, size=21, angle=-90)
txt("Adaptation rate (1/sec)", 600, 2062, size=20)

layout["xaxis12"] = axis(domain=xdom(922, 1189), range=[1, 5], anchor="y12", ticks="inside", tickvals=[1, 2, 3, 4, 5])
layout["yaxis12"] = axis(domain=ydom(1623, 2022), range=[0, 14], anchor="x12", ticks="inside",
                         tickvals=[0, 2, 4, 6, 8, 10, 12, 14])
fig.add_trace(go.Scatter(x=[p[0] for p in i_points], y=[p[1] for p in i_points], mode="markers", cliponaxis=False,
                         marker=MK, xaxis="x12", yaxis="y12"))
txt("Pairwise difference in τ<sub>r</sub> (sec)", 866, 1814, size=21, angle=-90)
txt("Min. path length (neurons)", 1039, 2061, size=20)

layout["xaxis13"] = axis(domain=xdom(1315, 1582), range=[1, 5], anchor="y13", ticks="inside", tickvals=[1, 2, 3, 4, 5])
layout["yaxis13"] = axis(domain=ydom(1623, 2022), range=[0, 0.9], anchor="x13", ticks="inside",
                         tickvals=[0, 0.1, 0.2, 0.3, 0.4, 0.5, 0.6, 0.7, 0.8],
                         ticktext=["0", "", "0.2", "", "0.4", "", "0.6", "", "0.8"])
fig.add_trace(go.Scatter(x=[p[0] for p in j_points], y=[p[1] for p in j_points], mode="markers", cliponaxis=False,
                         marker=MK, xaxis="x13", yaxis="y13"))
txt("Pairwise difference in<br>adaptation rate (1/sec)", 1241, 1824, size=21, angle=-90)
txt("Min. path length (neurons)", 1438, 2061, size=20)

# ---------------- panel letters ----------------
for L, x, y in [("A", 22, 26), ("B", 434, 30), ("C", 873, 28), ("D", 1270, 28), ("E", 22, 517),
                ("F", 22, 1062), ("G", 24, 1622), ("H", 402, 1622), ("I", 840, 1620), ("J", 1222, 1623)]:
    txt(L, x, y, size=44)

layout.update(dict(width=W, height=H, margin=dict(l=0, r=0, t=0, b=0), showlegend=False,
                   plot_bgcolor="white", paper_bgcolor="white", annotations=ann, shapes=shapes,
                   font=dict(family=FONT, color="black")))
fig.update_layout(**layout)
fig.write_html("out.html", config={"displayModeBar": False},
               post_script="document.body.style.margin='0px';document.body.style.overflow='hidden';")
